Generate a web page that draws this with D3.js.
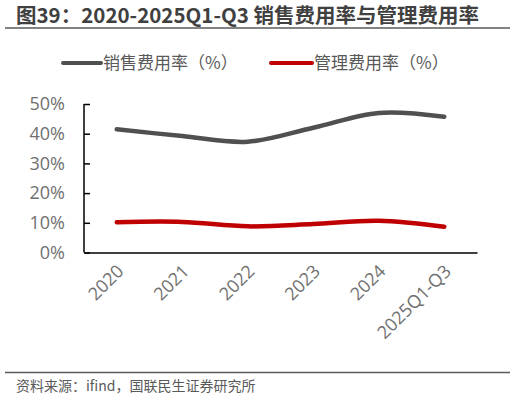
<!DOCTYPE html>
<html>
<head>
<meta charset="utf-8">
<script src="https://cdn.jsdelivr.net/npm/d3@7"></script>
<style>
  body { margin: 0; background: #fff; }
  svg { display: block; font-family: "Noto Sans CJK SC", "Open Sans", sans-serif; }
</style>
</head>
<body>
<svg id="chart" width="515" height="400"></svg>
<script>
var categories = ["2020", "2021", "2022", "2023", "2024", "2025Q1-Q3"];
var salesRate = [41.5, 39.2, 37.3, 42.0, 47.0, 45.7];
var adminRate = [10.2, 10.3, 8.8, 9.6, 10.7, 8.7];
var yTicks = [0, 10, 20, 30, 40, 50];
var seriesNames = ["销售费用率（%）", "管理费用率（%）"];
var seriesColors = ["#505050", "#c00000"];

var svg = d3.select("#chart");

// title + rules
svg.append("text")
    .attr("x", 16).attr("y", 23)
    .attr("font-size", 20.5).attr("font-weight", "bold")
    .attr("fill", "#404040")
    .text("图39：2020-2025Q1-Q3 销售费用率与管理费用率");
svg.append("line")
    .attr("x1", 5).attr("x2", 510).attr("y1", 28).attr("y2", 28)
    .attr("stroke", "#5a5a5a").attr("stroke-width", 1.5);
svg.append("line")
    .attr("x1", 5).attr("x2", 510).attr("y1", 372.5).attr("y2", 372.5)
    .attr("stroke", "#5a5a5a").attr("stroke-width", 1.5);
svg.append("text")
    .attr("x", 16).attr("y", 391)
    .attr("font-size", 14).attr("fill", "#595959")
    .text("资料来源：ifind，国联民生证券研究所");

// legend
var legendPos = [{x: 63, w: 38}, {x: 271, w: 41}];
seriesNames.forEach(function(name, i) {
  var lg = svg.append("g").attr("transform", "translate(" + legendPos[i].x + ",63)");
  lg.append("line").attr("x1", 0).attr("x2", legendPos[i].w)
    .attr("stroke", seriesColors[i]).attr("stroke-width", 4).attr("stroke-linecap", "round");
  lg.append("text").attr("x", legendPos[i].w + 2).attr("dy", "0.36em")
    .attr("font-size", 17).attr("fill", "#595959").text(name);
});

var margin = {top: 104, left: 84};
var width = 393, height = 148.5;
var g = svg.append("g").attr("transform", "translate(" + margin.left + "," + margin.top + ")");

var x = d3.scaleBand().domain(categories).range([0, width]);
var y = d3.scaleLinear().domain([0, 50]).range([height, 0]);

// y axis
var yAxis = g.append("g")
    .call(d3.axisRight(y).tickValues(yTicks).tickSize(6).tickFormat(function(d) { return d + "%"; }));
yAxis.select(".domain").attr("stroke", "#000").attr("stroke-width", 1.5).attr("d", "M0,0V" + height);
yAxis.selectAll(".tick line").attr("stroke", "#000").attr("stroke-width", 1.5);
yAxis.selectAll(".tick text")
    .attr("x", -19).attr("text-anchor", "end")
    .attr("font-size", 18).attr("fill", "#707070")
    .attr("font-family", "'Open Sans', sans-serif");

// x axis
var xAxis = g.append("g")
    .attr("transform", "translate(0," + height + ")")
    .call(d3.axisBottom(x).tickSize(0));
xAxis.select(".domain").attr("stroke", "#000").attr("stroke-width", 1.5);
xAxis.selectAll(".tick text")
    .attr("text-anchor", "end")
    .attr("font-size", 18).attr("fill", "#707070")
    .attr("font-family", "'Open Sans', sans-serif")
    .attr("dy", null).attr("y", 0)
    .attr("transform", "translate(8,20) rotate(-45)");

var line = d3.line()
    .x(function(d, i) { return x(categories[i]) + x.bandwidth() / 2; })
    .y(function(d) { return y(d); })
    .curve(d3.curveCatmullRom.alpha(0.5));

[salesRate, adminRate].forEach(function(vals, i) {
  g.append("path")
    .datum(vals)
    .attr("fill", "none")
    .attr("stroke", seriesColors[i])
    .attr("stroke-width", 4.5)
    .attr("stroke-linecap", "round")
    .attr("d", line);
});
</script>
</body>
</html>
